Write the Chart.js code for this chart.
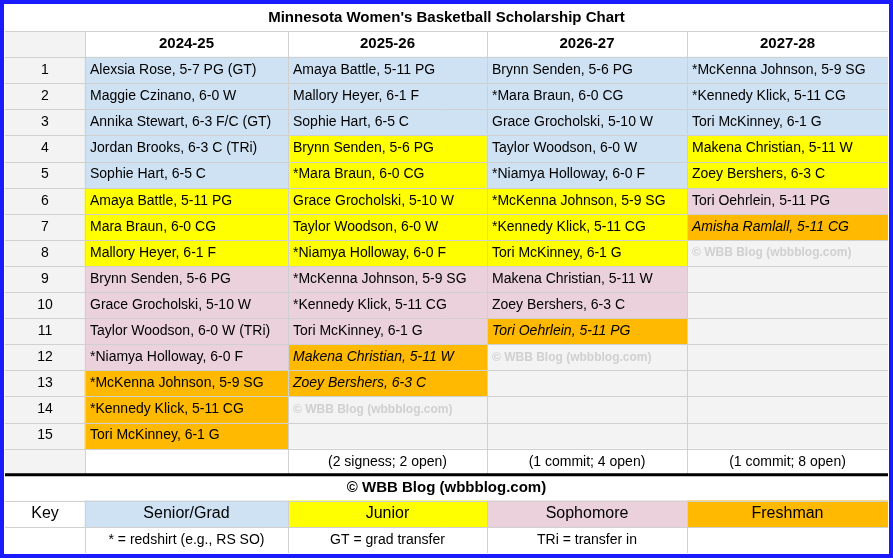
<!DOCTYPE html>
<html><head><meta charset="utf-8">
<script src="https://cdn.jsdelivr.net/npm/chart.js@4/dist/chart.umd.min.js"></script>
<style>body{margin:0;background:#fff}canvas{display:block}</style>
</head><body>
<canvas id="c" width="893" height="558"></canvas>
<script>
const TITLE = "Minnesota Women's Basketball Scholarship Chart";
const seasons = ["2024-25", "2025-26", "2026-27", "2027-28"];
const rowNums = ["1","2","3","4","5","6","7","8","9","10","11","12","13","14","15"];
// S = senior/grad, J = junior, P = sophomore, F = freshman, C = copyright cell
const col1Names = ["Alexsia Rose, 5-7 PG (GT)","Maggie Czinano, 6-0 W","Annika Stewart, 6-3 F/C (GT)","Jordan Brooks, 6-3 C (TRi)","Sophie Hart, 6-5 C","Amaya Battle, 5-11 PG","Mara Braun, 6-0 CG","Mallory Heyer, 6-1 F","Brynn Senden, 5-6 PG","Grace Grocholski, 5-10 W","Taylor Woodson, 6-0 W (TRi)","*Niamya Holloway, 6-0 F","*McKenna Johnson, 5-9 SG","*Kennedy Klick, 5-11 CG","Tori McKinney, 6-1 G"];
const col1Class = "SSSSSJJJPPPPFFF";
const col2Names = ["Amaya Battle, 5-11 PG","Mallory Heyer, 6-1 F","Sophie Hart, 6-5 C","Brynn Senden, 5-6 PG","*Mara Braun, 6-0 CG","Grace Grocholski, 5-10 W","Taylor Woodson, 6-0 W","*Niamya Holloway, 6-0 F","*McKenna Johnson, 5-9 SG","*Kennedy Klick, 5-11 CG","Tori McKinney, 6-1 G","Makena Christian, 5-11 W","Zoey Bershers, 6-3 C","© WBB Blog (wbbblog.com)"];
const col2Class = "SSSJJJJJPPPFFC";
const col3Names = ["Brynn Senden, 5-6 PG","*Mara Braun, 6-0 CG","Grace Grocholski, 5-10 W","Taylor Woodson, 6-0 W","*Niamya Holloway, 6-0 F","*McKenna Johnson, 5-9 SG","*Kennedy Klick, 5-11 CG","Tori McKinney, 6-1 G","Makena Christian, 5-11 W","Zoey Bershers, 6-3 C","Tori Oehrlein, 5-11 PG","© WBB Blog (wbbblog.com)"];
const col3Class = "SSSSSJJJPPFC";
const col4Names = ["*McKenna Johnson, 5-9 SG","*Kennedy Klick, 5-11 CG","Tori McKinney, 6-1 G","Makena Christian, 5-11 W","Zoey Bershers, 6-3 C","Tori Oehrlein, 5-11 PG","Amisha Ramlall, 5-11 CG","© WBB Blog (wbbblog.com)"];
const col4Class = "SSSJJPFC";
const italicFrom = [false, true, true, true]; // freshmen commits shown in italics
const notes = ["", "(2 signess; 2 open)", "(1 commit; 4 open)", "(1 commit; 8 open)"];
const keyLabels = ["Senior/Grad", "Junior", "Sophomore", "Freshman"];
const keyNotes = ["* = redshirt (e.g., RS SO)", "GT = grad transfer", "TRi = transfer in", ""];
const COPY = "© WBB Blog (wbbblog.com)";

const colors = { S: "#cfe2f3", J: "#ffff00", P: "#ead1dc", F: "#ffb900" };
const classNames = { S: "Senior/Grad", J: "Junior", P: "Sophomore", F: "Freshman" };
// column edges in table units (num column + 4 seasons)
const EDGES = [0, 80, 283, 482, 682, 883];

const rowLabels = ["title", "head"].concat(rowNums, ["note", "copy", "key", "legend"]);
const columns = [[col1Names, col1Class], [col2Names, col2Class], [col3Names, col3Class], [col4Names, col4Class]];

const datasets = Object.keys(colors).map((k) => {
  const data = [];
  columns.forEach(([names, cls], ci) => {
    for (let r = 0; r < cls.length; r++) {
      if (cls[r] === k) data.push({ x: [EDGES[ci + 1], EDGES[ci + 2]], y: rowNums[r] });
    }
  });
  data.push({ x: [EDGES[keyLabels.indexOf(classNames[k]) + 1], EDGES[keyLabels.indexOf(classNames[k]) + 2]], y: "key" });
  return { label: classNames[k], data, backgroundColor: colors[k], borderWidth: 0, barPercentage: 1, categoryPercentage: 1, grouped: false };
});

const FONT = "'Liberation Sans', Arial, sans-serif";

const tablePlugin = {
  id: "table",
  beforeDatasetsDraw(chart) {
    const { ctx, chartArea: a, scales } = chart;
    const rh = a.height / rowLabels.length;
    ctx.save();
    ctx.fillStyle = "#f3f3f3";
    ctx.fillRect(a.left, a.top, a.width, a.height);
    ctx.fillStyle = "#ffffff";
    ["title", "head", "note", "copy", "key", "legend"].forEach((l) => {
      const y = scales.y.getPixelForValue(rowLabels.indexOf(l)) - rh / 2;
      const x0 = l === "head" || l === "note" ? scales.x.getPixelForValue(EDGES[1]) : a.left;
      ctx.fillRect(x0, y, a.right - x0, rh);
    });
    ctx.restore();
  },
  afterDatasetsDraw(chart) {
    const { ctx, chartArea: a, scales } = chart;
    const rh = a.height / rowLabels.length;
    const X = (v) => scales.x.getPixelForValue(v);
    const Y = (l) => scales.y.getPixelForValue(rowLabels.indexOf(l));
    ctx.save();
    // grid
    ctx.strokeStyle = "#d0d0d0";
    ctx.lineWidth = 1;
    for (let i = 1; i < rowLabels.length; i++) {
      const y = Math.round(a.top + i * rh) + 0.5;
      ctx.beginPath(); ctx.moveTo(a.left, y); ctx.lineTo(a.right, y); ctx.stroke();
    }
    const topY = a.top + rh, copyTop = Y("copy") - rh / 2;
    EDGES.slice(1, -1).forEach((e) => {
      const x = Math.round(X(e)) + 0.5;
      ctx.beginPath(); ctx.moveTo(x, topY); ctx.lineTo(x, copyTop); ctx.stroke();
      ctx.beginPath(); ctx.moveTo(x, Y("key") - rh / 2); ctx.lineTo(x, a.bottom); ctx.stroke();
    });
    // thick separator
    ctx.strokeStyle = "#000"; ctx.lineWidth = 3;
    ctx.beginPath(); ctx.moveTo(a.left, copyTop); ctx.lineTo(a.right, copyTop); ctx.stroke();
    // text
    ctx.fillStyle = "#000"; ctx.textBaseline = "middle";
    ctx.textAlign = "center";
    ctx.font = "bold 15px " + FONT;
    ctx.fillText(TITLE, (a.left + a.right) / 2, Y("title"));
    seasons.forEach((s, i) => ctx.fillText(s, (X(EDGES[i + 1]) + X(EDGES[i + 2])) / 2, Y("head")));
    ctx.fillText(COPY, (a.left + a.right) / 2, Y("copy"));
    ctx.font = "14px " + FONT;
    rowNums.forEach((n) => ctx.fillText(n, X(EDGES[0] + 40), Y(n)));
    notes.forEach((n, i) => ctx.fillText(n, (X(EDGES[i + 1]) + X(EDGES[i + 2])) / 2, Y("note")));
    keyNotes.forEach((n, i) => ctx.fillText(n, (X(EDGES[i + 1]) + X(EDGES[i + 2])) / 2, Y("legend")));
    ctx.font = "16px " + FONT;
    ctx.fillText("Key", X(EDGES[0] + 40), Y("key"));
    keyLabels.forEach((n, i) => ctx.fillText(n, (X(EDGES[i + 1]) + X(EDGES[i + 2])) / 2, Y("key")));
    ctx.textAlign = "left";
    columns.forEach(([names, cls], ci) => {
      names.forEach((n, r) => {
        const x = X(EDGES[ci + 1]) + 5, y = Y(rowNums[r]);
        if (cls[r] === "C") { ctx.fillStyle = "#d0d0d0"; ctx.font = "bold 12px " + FONT; }
        else { ctx.fillStyle = "#000"; ctx.font = (cls[r] === "F" && italicFrom[ci] ? "italic " : "") + "14px " + FONT; }
        ctx.fillText(n, x, y);
      });
    });
    // outer border
    ctx.strokeStyle = "#1a1aff"; ctx.lineWidth = 4;
    ctx.strokeRect(2, 2, chart.width - 4, chart.height - 4);
    ctx.restore();
  },
};

new Chart(document.getElementById("c"), {
  type: "bar",
  data: { labels: rowLabels, datasets },
  options: {
    indexAxis: "y",
    responsive: false,
    animation: false,
    layout: { padding: { left: 5, right: 5, top: 5, bottom: 5 } },
    scales: {
      x: { type: "linear", min: 0, max: 883, display: false },
      y: { type: "category", display: false },
    },
    plugins: { legend: { display: false }, tooltip: { enabled: false } },
  },
  plugins: [tablePlugin],
});
</script>
</body></html>
